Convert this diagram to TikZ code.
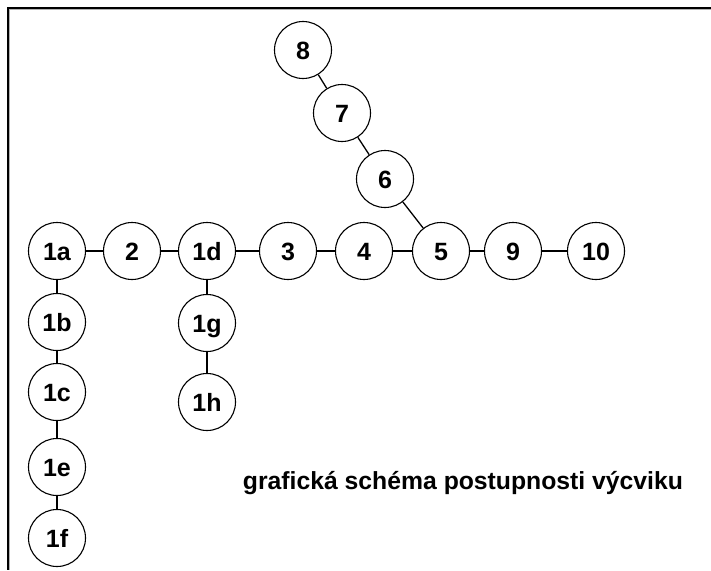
\documentclass[tikz,border=0pt]{standalone}
\usepackage{fontspec}
\setmainfont{Liberation Sans}
\begin{document}
\begin{tikzpicture}[x=1pt,y=-1pt,
  stage/.style={circle,draw=black,line width=1.1pt,minimum size=57pt,inner sep=0pt,
    text height=18pt,text depth=0pt,
    font=\fontsize{25}{25}\selectfont\bfseries},
  link/.style={draw=black,line width=1.3pt},
  frame/.style={draw=black,line width=2pt}]
\useasboundingbox (0,0) rectangle (711,570);
\coordinate (ftop) at (711,7.5);
\coordinate (fcorner) at (7.5,7.5);
\coordinate (fbot) at (7.5,570);
\draw[frame] (ftop) -- (fcorner) -- (fbot);
\coordinate (gtop) at (711,9.8);
\coordinate (gcorner) at (9.8,9.8);
\coordinate (gbot) at (9.8,570);
\draw[gray!60,line width=0.8pt] (gtop) -- (gcorner) -- (gbot);
\node[stage] (n8) at (303,50) {8};
\node[stage] (n7) at (342,113) {7};
\node[stage] (n6) at (385,179) {6};
\node[stage] (n1a) at (57,251) {1a};
\node[stage] (n2) at (132,251) {2};
\node[stage] (n1d) at (207,251) {1d};
\node[stage] (n3) at (288,251) {3};
\node[stage] (n4) at (364,251) {4};
\node[stage] (n5) at (441,251) {5};
\node[stage] (n9) at (513,251) {9};
\node[stage] (n10) at (596,251) {10};
\node[stage] (n1b) at (57,322) {1b};
\node[stage] (n1c) at (57,392) {1c};
\node[stage] (n1e) at (57,467) {1e};
\node[stage] (n1f) at (57,538) {1f};
\node[stage] (n1g) at (207,323) {1g};
\node[stage] (n1h) at (207,402) {1h};
\draw[link] (n8) -- (n7);
\draw[link] (n7) -- (n6);
\draw[link] (n6) -- (n5);
\draw[link] (n1a) -- (n2);
\draw[link] (n2) -- (n1d);
\draw[link] (n1d) -- (n3);
\draw[link] (n3) -- (n4);
\draw[link] (n4) -- (n5);
\draw[link] (n5) -- (n9);
\draw[link] (n9) -- (n10);
\draw[link] (n1a) -- (n1b);
\draw[link] (n1b) -- (n1c);
\draw[link] (n1c) -- (n1e);
\draw[link] (n1e) -- (n1f);
\draw[link] (n1d) -- (n1g);
\draw[link] (n1g) -- (n1h);
\node[font=\fontsize{20}{20}\selectfont\bfseries,inner sep=0pt,anchor=base] (cap) at (463,489)
  {\resizebox{440pt}{!}{grafická schéma postupnosti výcviku}};
\end{tikzpicture}
\end{document}
